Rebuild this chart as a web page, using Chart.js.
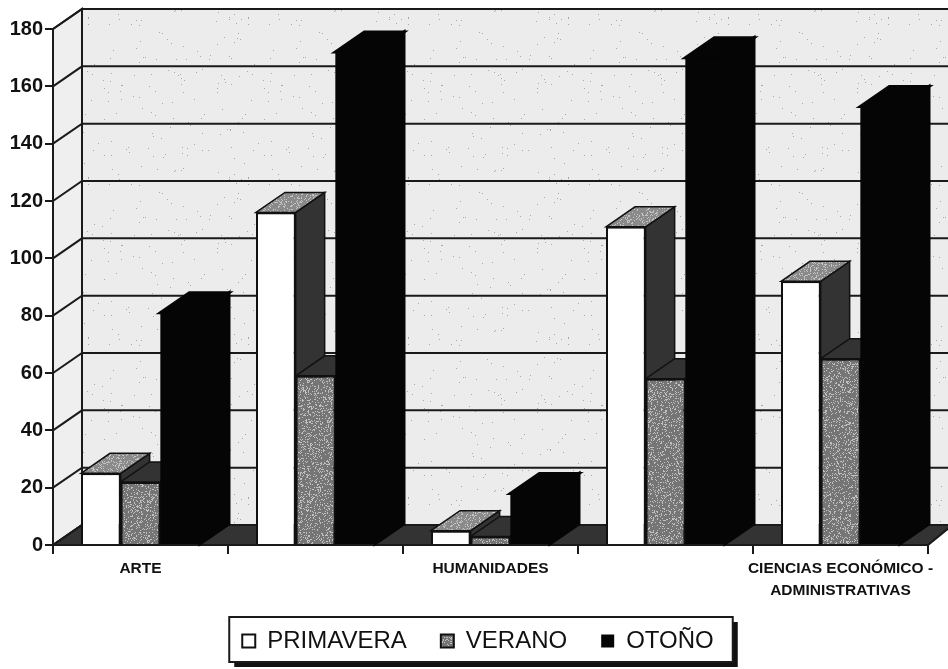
<!DOCTYPE html>
<html>
<head>
<meta charset="utf-8">
<style>
  html, body { margin: 0; padding: 0; background: #fff; }
  #box { width: 948px; height: 669px; }
</style>
<script src="https://cdn.jsdelivr.net/npm/chart.js@4"></script>
</head>
<body>
<div id="box"><canvas id="grafica"></canvas></div>
<script>
const categorias = ["ARTE", "", "HUMANIDADES", "", ["CIENCIAS ECONÓMICO -", "ADMINISTRATIVAS"]];
const primavera = [25, 116, 5, 111, 92];
const verano = [22, 59, 3, 58, 65];
const otono = [81, 172, 18, 170, 153];

// 3d depth of the box, in pixels
const fondoX = 29;
const fondoY = 20;
const pasoLeyenda = 34;

// speckled fill, fixed seed so every render is the same
function moteado(base, punto, densidad) {
    const c = document.createElement("canvas");
    c.width = c.height = 160;
    const g = c.getContext("2d");
    g.fillStyle = base;
    g.fillRect(0, 0, 160, 160);
    g.fillStyle = punto;
    let s = 12345;
    for (let y = 0; y < 160; y++) {
        for (let x = 0; x < 160; x++) {
            s = (s * 1103515 + 12345) % 2147483648;
            if (s / 2147483648 < densidad) g.fillRect(x, y, 1, 1);
        }
    }
    return document.createElement("canvas").getContext("2d").createPattern(c, "repeat");
}

const texPared = moteado("#ececec", "#a8a8a8", 0.005);
const texVerano = moteado("#757575", "#c0c0c0", 0.2);
const texTapa = moteado("#8a8a8a", "#c4c4c4", 0.2);
const oscuro = "#333333";
const negro = "#050505";
const linea = "#1a1a1a";

function poligono(ctx, puntos, relleno) {
    ctx.beginPath();
    puntos.forEach((p, i) => i ? ctx.lineTo(p[0], p[1]) : ctx.moveTo(p[0], p[1]));
    ctx.closePath();
    ctx.fillStyle = relleno;
    ctx.fill();
    ctx.stroke();
}

const caja3d = {
    id: "caja3d",
    afterLayout(chart) {
        // legend sits off-centre in the original
        const l = chart.legend;
        const d = 478 - (l.left + l.right) / 2;
        l.left += d;
        l.right += d;
        l.top = 642 - pasoLeyenda - 13;
    },
    beforeDraw(chart) {
        const ctx = chart.ctx;
        const a = chart.chartArea;
        const y = chart.scales.y;
        const w = chart.width;
        const top = y.getPixelForValue(180);
        const cero = y.getPixelForValue(0);
        ctx.save();
        ctx.strokeStyle = linea;
        ctx.lineWidth = 2;
        // back wall and left wall
        poligono(ctx, [[a.left + fondoX, top - fondoY], [w + 2, top - fondoY], [w + 2, cero - fondoY], [a.left + fondoX, cero - fondoY]], texPared);
        poligono(ctx, [[a.left, top], [a.left + fondoX, top - fondoY], [a.left + fondoX, cero - fondoY], [a.left, cero]], "#efefef");
        // floor
        poligono(ctx, [[a.left, cero], [a.left + fondoX, cero - fondoY], [w + 2, cero - fondoY], [w + 2, cero - fondoY + 2], [a.right, cero]], oscuro);
        // grid on the walls
        y.ticks.forEach(t => {
            const py = y.getPixelForValue(t.value);
            ctx.beginPath();
            ctx.moveTo(a.left, py);
            ctx.lineTo(a.left + fondoX, py - fondoY);
            ctx.lineTo(w + 2, py - fondoY);
            ctx.stroke();
        });
        // legend frame with its shadow
        const l = chart.legend;
        const cx = 481;
        const ancho = (l.lineWidths[0] - pasoLeyenda) / 2 + 16;
        const alto = 45;
        const yMarco = 617;
        ctx.fillStyle = "#111";
        ctx.fillRect(cx - ancho + 5, yMarco + 5, ancho * 2, alto);
        ctx.fillStyle = "#fff";
        ctx.fillRect(cx - ancho, yMarco, ancho * 2, alto);
        ctx.strokeRect(cx - ancho, yMarco, ancho * 2, alto);
        ctx.restore();
    },
    beforeDatasetsDraw(chart) {
        const ctx = chart.ctx;
        const tapas = [texTapa, oscuro, negro];
        const lados = [oscuro, oscuro, negro];
        const bordes = ["#111", "#111", negro];
        ctx.save();
        chart.data.datasets.forEach((ds, i) => {
            ctx.strokeStyle = bordes[i];
            ctx.lineWidth = i === 2 ? 3 : 1.5;
            chart.getDatasetMeta(i).data.forEach(b => {
                const x0 = b.x - b.width / 2;
                const x1 = b.x + b.width / 2;
                poligono(ctx, [[x1, b.y], [x1 + fondoX, b.y - fondoY], [x1 + fondoX, b.base - fondoY], [x1, b.base]], lados[i]);
                poligono(ctx, [[x0, b.y], [x0 + fondoX, b.y - fondoY], [x1 + fondoX, b.y - fondoY], [x1, b.y]], tapas[i]);
            });
        });
        ctx.restore();
    }
};

new Chart(document.getElementById("grafica").getContext("2d"), {
    type: "bar",
    plugins: [caja3d],
    data: {
        labels: categorias,
        datasets: [
            { label: "PRIMAVERA", data: primavera, backgroundColor: "#ffffff", borderColor: "#111", borderWidth: 2 },
            { label: "VERANO", data: verano, backgroundColor: texVerano, borderColor: "#111", borderWidth: 2 },
            { label: "OTOÑO", data: otono, backgroundColor: negro, borderColor: negro, borderWidth: 0 }
        ]
    },
    options: {
        responsive: true,
        maintainAspectRatio: false,
        animation: false,
        datasets: { bar: { categoryPercentage: 0.68, barPercentage: 1 } },
        layout: { padding: { top: 29, right: 20, bottom: 0 } },
        plugins: {
            tooltip: { enabled: false },
            legend: {
                position: "bottom",
                labels: {
                    color: "#111",
                    font: { family: "'Liberation Sans', Arial, sans-serif", size: 24 },
                    boxWidth: 13,
                    boxHeight: 13,
                    padding: pasoLeyenda
                }
            }
        },
        scales: {
            x: {
                offset: true,
                afterFit(s) { s.height = 56; },
                border: { color: linea, width: 2 },
                grid: { drawOnChartArea: false, color: linea, lineWidth: 2, tickLength: 9, offset: true },
                ticks: {
                    autoSkip: false,
                    maxRotation: 0,
                    padding: 4,
                    color: "#111",
                    font: { family: "'Liberation Sans', Arial, sans-serif", size: 15.5, weight: "bold", lineHeight: 1.4 }
                }
            },
            y: {
                min: 0,
                max: 180,
                afterFit(s) { s.width = 53; },
                border: { color: linea, width: 2 },
                grid: { drawOnChartArea: false, color: linea, lineWidth: 2, tickLength: 8 },
                ticks: {
                    stepSize: 20,
                    padding: 2,
                    color: "#111",
                    font: { family: "'Liberation Sans', Arial, sans-serif", size: 20, weight: "bold" }
                }
            }
        }
    }
});
</script>
</body>
</html>
